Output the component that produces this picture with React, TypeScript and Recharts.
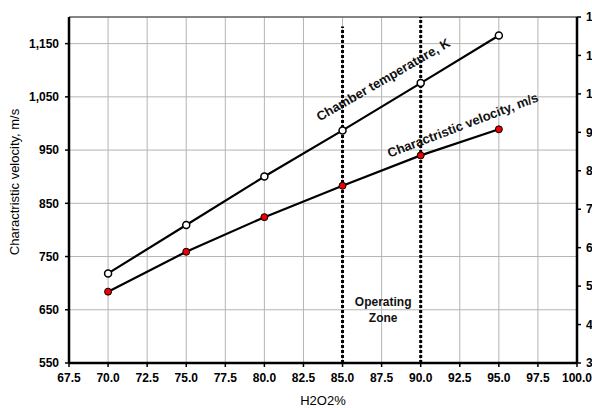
import React from "react";
import {
  LineChart,
  Line,
  XAxis,
  YAxis,
  CartesianGrid,
  ReferenceLine,
  ReferenceDot,
} from "recharts";

// H2O2 concentration, %
const h2o2 = [70, 75, 80, 85, 90, 95];
// characteristic velocity, m/s (left axis)
const charVelocity = [684, 759, 824, 883, 940, 989];
// chamber temperature, K (right axis)
const chamberTemp = [533, 659, 785, 905, 1028, 1152];

const xTicks = [67.5, 70, 72.5, 75, 77.5, 80, 82.5, 85, 87.5, 90, 92.5, 95, 97.5, 100];
const leftTicks = [550, 650, 750, 850, 950, 1050, 1150];
const rightTicks = [300, 400, 500, 600, 700, 800, 900, 1000, 1100, 1200];
// operating zone boundaries and how far up each dotted line reaches (left axis units)
const zoneBounds = [85, 90];
const zoneTops = [1182, 1200];

const rows = h2o2.map((x, i) => ({
  x,
  velocity: charVelocity[i],
  temperature: chamberTemp[i],
}));

const FONT = "'Liberation Sans', Arial, sans-serif";
const tickStyle = { fill: "#000", fontSize: 12, fontWeight: 700, fontFamily: FONT };

const comma = (v: number) => v.toLocaleString("en-US");

// rotated text centred on a data point
function slantedLabel(text: string, angle: number) {
  return (props: any) => {
    const { cx, cy } = props;
    return (
      <text
        x={cx}
        y={cy}
        textAnchor="middle"
        dominantBaseline="central"
        transform={`rotate(${angle} ${cx} ${cy})`}
        fontFamily={FONT}
        fontSize={13}
        fontWeight={700}
        fill="#111"
      >
        {text}
      </text>
    );
  };
}

function zoneLabel(props: any) {
  const { cx, cy } = props;
  return (
    <text x={cx} y={cy} textAnchor="middle" fontFamily={FONT} fontSize={12} fontWeight={700} fill="#111">
      <tspan x={cx} dy={-4}>Operating</tspan>
      <tspan x={cx} dy={16}>Zone</tspan>
    </text>
  );
}

function VelocityAxisLabel(props: any) {
  const { viewBox } = props;
  const x = viewBox.x;
  const y = viewBox.y + viewBox.height / 2 - 8;
  return (
    <text
      x={x}
      y={y}
      textAnchor="middle"
      dominantBaseline="central"
      transform={`rotate(-90 ${x} ${y})`}
      fontFamily={FONT}
      fontSize={13}
      fill="#000"
    >
      Charactristic velocity, m/s
    </text>
  );
}

function PercentAxisLabel(props: any) {
  const { viewBox } = props;
  const x = viewBox.x + viewBox.width / 2;
  return (
    <text x={x} y={viewBox.y + 37} textAnchor="middle" dominantBaseline="central" fontFamily={FONT} fontSize={13} fill="#000">
      H2O2%
    </text>
  );
}

export default function App() {
  return (
    <div style={{ position: "absolute", left: 0, top: 0, width: 592, height: 408, background: "#fff" }}>
      <LineChart width={592} height={408} data={rows} margin={{ top: 17, right: 0, bottom: 0, left: 14 }}>
        <CartesianGrid stroke="#b4b4b4" strokeWidth={1} />
        <XAxis
          type="number"
          dataKey="x"
          domain={[67.5, 100]}
          ticks={xTicks}
          interval={0}
          tickFormatter={(v: number) => v.toFixed(1)}
          height={45}
          tickSize={4}
          tickMargin={6}
          tick={tickStyle}
          axisLine={{ stroke: "#000", strokeWidth: 2.5 }}
          tickLine={{ stroke: "#000", strokeWidth: 1.5 }}
          label={{ content: PercentAxisLabel }}
        />
        <YAxis
          domain={[550, 1200]}
          ticks={leftTicks}
          interval={0}
          tickFormatter={comma}
          width={55}
          tickSize={4}
          tickMargin={6}
          tick={tickStyle}
          axisLine={{ stroke: "#000", strokeWidth: 2.5 }}
          tickLine={{ stroke: "#000", strokeWidth: 1.5 }}
          label={{ content: VelocityAxisLabel }}
        />
        <YAxis
          yAxisId="right"
          orientation="right"
          domain={[300, 1200]}
          ticks={rightTicks}
          interval={0}
          tickFormatter={comma}
          width={15}
          tickSize={4}
          tickMargin={5}
          tick={{ ...tickStyle, textAnchor: "start" }}
          axisLine={{ stroke: "#000", strokeWidth: 2.5 }}
          tickLine={{ stroke: "#000", strokeWidth: 1.5 }}
        />
        <ReferenceLine y={1200} stroke="#333" strokeWidth={1} />
        {zoneBounds.map((b, i) => (
          <ReferenceLine
            key={b}
            segment={[
              { x: b, y: 550 },
              { x: b, y: zoneTops[i] },
            ]}
            stroke="#000"
            strokeWidth={3}
            strokeDasharray="3 2"
          />
        ))}
        <Line
          yAxisId="right"
          dataKey="temperature"
          stroke="#000"
          strokeWidth={2.2}
          dot={{ r: 3.5, fill: "#fff", stroke: "#000", strokeWidth: 1.5 }}
          isAnimationActive={false}
        />
        <Line
          dataKey="velocity"
          stroke="#000"
          strokeWidth={2.2}
          dot={{ r: 3.5, fill: "#ee0000", stroke: "#000", strokeWidth: 1 }}
          isAnimationActive={false}
        />
        <ReferenceDot yAxisId="right" x={87.6} y={1037} r={0} shape={slantedLabel("Chamber temperature, K", -30)} />
        <ReferenceDot x={92.7} y={997} r={0} shape={slantedLabel("Charactristic velocity, m/s", -20.8)} />
        <ReferenceDot x={87.6} y={650} r={0} shape={zoneLabel} />
      </LineChart>
    </div>
  );
}
